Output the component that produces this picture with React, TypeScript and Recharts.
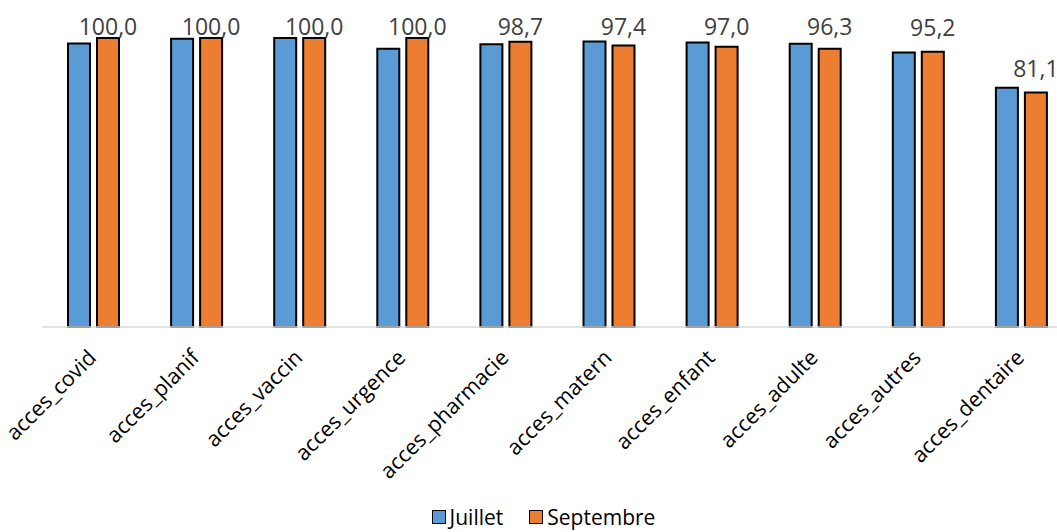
import { BarChart, Bar, XAxis, YAxis, Legend, LabelList } from 'recharts';

// catégories et valeurs (%)
const categories = [
  'acces_covid',
  'acces_planif',
  'acces_vaccin',
  'acces_urgence',
  'acces_pharmacie',
  'acces_matern',
  'acces_enfant',
  'acces_adulte',
  'acces_autres',
  'acces_dentaire',
];
const juillet = [98.1, 99.7, 100.0, 96.3, 97.8, 98.8, 98.4, 98.0, 95.0, 82.8];
const septembre = [100.0, 100.0, 100.0, 100.0, 98.7, 97.4, 97.0, 96.3, 95.2, 81.1];

const COLOR_JUILLET = '#5B9BD5';
const COLOR_SEPTEMBRE = '#ED7D31';
const FONT = '"Open Sans", "Noto Sans", sans-serif';

const data = categories.map((name, i) => ({
  name,
  juillet: juillet[i],
  septembre: septembre[i],
}));

function RotatedTick(props: any) {
  const { x, y, payload } = props;
  return (
    <g transform={`translate(${x + 4},${y + 24})`}>
      <text
        x={0}
        y={0}
        textAnchor="end"
        transform="rotate(-45)"
        fontSize={21.5}
        fontFamily={FONT}
        fill="#000"
      >
        {payload.value}
      </text>
    </g>
  );
}

// étiquette au-dessus de la barre, bloquée en haut de la zone
function ValueLabel(props: any) {
  const { x, y, width, value } = props;
  const base = Math.max(y - 16, 35);
  return (
    <text
      x={x + width / 2}
      y={base}
      textAnchor="middle"
      fontSize={23}
      fontFamily={FONT}
      fill="#404040"
    >
      {Number(value).toFixed(1).replace('.', ',')}
    </text>
  );
}

function LegendContent() {
  const items = [
    { label: 'Juillet', color: COLOR_JUILLET },
    { label: 'Septembre', color: COLOR_SEPTEMBRE },
  ];
  return (
    <div
      style={{
        display: 'flex',
        justifyContent: 'center',
        alignItems: 'center',
        gap: 26,
        fontFamily: FONT,
        fontSize: 21,
        lineHeight: '24px',
        color: '#000',
        paddingTop: 8,
        width: 1057,
        boxSizing: 'border-box',
        paddingLeft: 30,
      }}
    >
      {items.map((it) => (
        <div key={it.label} style={{ display: 'flex', alignItems: 'center', gap: 4 }}>
          <span
            style={{
              display: 'inline-block',
              width: 12,
              height: 12,
              background: it.color,
              border: '1.5px solid #000',
            }}
          />
          <span>{it.label}</span>
        </div>
      ))}
    </div>
  );
}

export default function App() {
  return (
    <div
      style={{
        position: 'absolute',
        left: 0,
        top: 0,
        width: 1057,
        height: 532,
        overflow: 'hidden',
        background: '#fff',
      }}
    >
      <BarChart
        width={1073}
        height={532}
        data={data}
        margin={{ top: 38, right: 0, left: 42, bottom: 0 }}
        barSize={22}
        barGap={7}
      >
        <XAxis
          dataKey="name"
          interval={0}
          tickLine={false}
          axisLine={{ stroke: '#d9d9d9', strokeWidth: 1.5 }}
          tick={<RotatedTick />}
          height={170}
        />
        <YAxis hide domain={[0, 100]} />
        <Legend
          verticalAlign="bottom"
          align="left"
          height={35}
          wrapperStyle={{ left: 0, width: 1057 }}
          content={<LegendContent />}
        />
        <Bar
          dataKey="juillet"
          name="Juillet"
          fill={COLOR_JUILLET}
          stroke="#000"
          strokeWidth={2}
          isAnimationActive={false}
        />
        <Bar
          dataKey="septembre"
          name="Septembre"
          fill={COLOR_SEPTEMBRE}
          stroke="#000"
          strokeWidth={2}
          isAnimationActive={false}
        >
          <LabelList dataKey="septembre" content={<ValueLabel />} />
        </Bar>
      </BarChart>
    </div>
  );
}
